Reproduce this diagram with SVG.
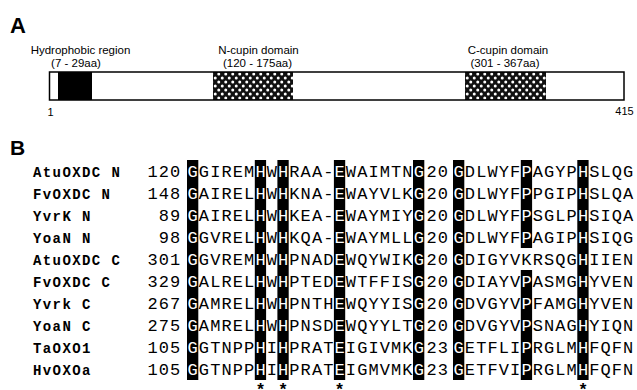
<svg xmlns="http://www.w3.org/2000/svg" width="637" height="390" viewBox="0 0 637 390">
<style>
.lbl{font-family:"Liberation Sans",Arial,sans-serif;font-size:11.5px;fill:#000;text-anchor:middle}
.pl{font-family:"Liberation Sans",Arial,sans-serif;font-size:22px;font-weight:bold;fill:#000}
.tick{font-family:"Liberation Sans",Arial,sans-serif;font-size:11px;fill:#000;text-anchor:middle}
.name{font-family:"Liberation Mono","Courier New",monospace;font-size:14px;font-weight:bold;letter-spacing:1.4px;fill:#000}
.seq{font-family:"Liberation Mono","Courier New",monospace;font-size:17px;letter-spacing:1.1px;fill:#000}
.w{fill:#fff}
.box{fill:#000}
.star{font-family:"Liberation Sans",Arial,sans-serif;font-size:17px;font-weight:bold;fill:#000;text-anchor:middle}
</style>
<defs>
<pattern id="dots" width="7" height="8" patternUnits="userSpaceOnUse">
<rect width="7" height="8" fill="#111"/>
<circle cx="1.75" cy="2" r="1.5" fill="#fff"/>
<circle cx="5.25" cy="6" r="1.5" fill="#fff"/>
</pattern>
</defs>
<rect width="637" height="390" fill="#fff"/>

<g id="panelA">
<text class="pl" x="10" y="33">A</text>
<g id="hydrophobic">
<text class="lbl" x="80.5" y="53.5">Hydrophobic region</text>
<text class="lbl" x="76" y="66.5">(7 - 29aa)</text>
</g>
<g id="ncupin">
<text class="lbl" x="258.5" y="53.5">N-cupin domain</text>
<text class="lbl" x="257.5" y="66.5">(120 - 175aa)</text>
</g>
<g id="ccupin">
<text class="lbl" x="508" y="53.5">C-cupin domain</text>
<text class="lbl" x="505" y="66.5">(301 - 367aa)</text>
</g>
<g id="bar">
<rect x="49.5" y="72" width="574.5" height="28" fill="#fff"/>
<rect x="58" y="72" width="34" height="28" fill="#000"/>
<rect x="213" y="72" width="80" height="28" fill="url(#dots)"/>
<rect x="465" y="72" width="81" height="28" fill="url(#dots)"/>
<rect x="49.5" y="72" width="574.5" height="28" fill="none" stroke="#000" stroke-width="1.5"/>
</g>
<text class="tick" x="50.5" y="116">1</text>
<text class="tick" x="624.5" y="115">415</text>
</g>

<g id="panelB">
<text class="pl" x="10" y="155" style="font-size:21px">B</text>
<g id="boxes">
<rect class="box" x="187" y="160" width="11.3" height="220"/>
<rect class="box" x="254.8" y="160" width="11.3" height="220"/>
<rect class="box" x="277.4" y="160" width="11.3" height="220"/>
<rect class="box" x="333.9" y="160" width="11.3" height="220"/>
<rect class="box" x="413" y="160" width="11.3" height="220"/>
<rect class="box" x="453" y="160" width="11.3" height="220"/>
<rect class="box" x="520.8" y="160" width="11.3" height="88"/>
<rect class="box" x="520.8" y="270" width="11.3" height="110"/>
<rect class="box" x="577.3" y="160" width="11.3" height="220"/>
</g>
<g id="names">
<text class="name" x="33" y="176.5">AtuOXDC N</text>
<text class="name" x="33" y="198.5">FvOXDC N</text>
<text class="name" x="33" y="220.5">YvrK N</text>
<text class="name" x="33" y="242.5">YoaN N</text>
<text class="name" x="33" y="264.5">AtuOXDC C</text>
<text class="name" x="33" y="286.5">FvOXDC C</text>
<text class="name" x="33" y="308.5">Yvrk C</text>
<text class="name" x="33" y="330.5">YoaN C</text>
<text class="name" x="33" y="352.5">TaOXO1</text>
<text class="name" x="33" y="374.5">HvOXOa</text>
</g>
<g id="numbers">
<text class="seq" x="147.5" y="176.5">120</text>
<text class="seq" x="147.5" y="198.5">148</text>
<text class="seq" x="158.8" y="220.5">89</text>
<text class="seq" x="158.8" y="242.5">98</text>
<text class="seq" x="147.5" y="264.5">301</text>
<text class="seq" x="147.5" y="286.5">329</text>
<text class="seq" x="147.5" y="308.5">267</text>
<text class="seq" x="147.5" y="330.5">275</text>
<text class="seq" x="147.5" y="352.5">105</text>
<text class="seq" x="147.5" y="374.5">105</text>
</g>
<g id="seg1">
<text class="seq" x="187.55" y="176.5"><tspan class="w">G</tspan>GIREM<tspan class="w">H</tspan>W<tspan class="w">H</tspan>RAA-<tspan class="w">E</tspan>WAIMTN<tspan class="w">G</tspan></text>
<text class="seq" x="187.55" y="198.5"><tspan class="w">G</tspan>AIREL<tspan class="w">H</tspan>W<tspan class="w">H</tspan>KNA-<tspan class="w">E</tspan>WAYVLK<tspan class="w">G</tspan></text>
<text class="seq" x="187.55" y="220.5"><tspan class="w">G</tspan>AIREL<tspan class="w">H</tspan>W<tspan class="w">H</tspan>KEA-<tspan class="w">E</tspan>WAYMIY<tspan class="w">G</tspan></text>
<text class="seq" x="187.55" y="242.5"><tspan class="w">G</tspan>GVREL<tspan class="w">H</tspan>W<tspan class="w">H</tspan>KQA-<tspan class="w">E</tspan>WAYMLL<tspan class="w">G</tspan></text>
<text class="seq" x="187.55" y="264.5"><tspan class="w">G</tspan>GVREM<tspan class="w">H</tspan>W<tspan class="w">H</tspan>PNAD<tspan class="w">E</tspan>WQYWIK<tspan class="w">G</tspan></text>
<text class="seq" x="187.55" y="286.5"><tspan class="w">G</tspan>ALREL<tspan class="w">H</tspan>W<tspan class="w">H</tspan>PTED<tspan class="w">E</tspan>WTFFIS<tspan class="w">G</tspan></text>
<text class="seq" x="187.55" y="308.5"><tspan class="w">G</tspan>AMREL<tspan class="w">H</tspan>W<tspan class="w">H</tspan>PNTH<tspan class="w">E</tspan>WQYYIS<tspan class="w">G</tspan></text>
<text class="seq" x="187.55" y="330.5"><tspan class="w">G</tspan>AMREL<tspan class="w">H</tspan>W<tspan class="w">H</tspan>PNSD<tspan class="w">E</tspan>WQYYLT<tspan class="w">G</tspan></text>
<text class="seq" x="187.55" y="352.5"><tspan class="w">G</tspan>GTNPP<tspan class="w">H</tspan>I<tspan class="w">H</tspan>PRAT<tspan class="w">E</tspan>IGIVMK<tspan class="w">G</tspan></text>
<text class="seq" x="187.55" y="374.5"><tspan class="w">G</tspan>GTNPP<tspan class="w">H</tspan>I<tspan class="w">H</tspan>PRAT<tspan class="w">E</tspan>IGMVMK<tspan class="w">G</tspan></text>
</g>
<g id="gaps">
<text class="seq" x="426.5" y="176.5">20</text>
<text class="seq" x="426.5" y="198.5">20</text>
<text class="seq" x="426.5" y="220.5">20</text>
<text class="seq" x="426.5" y="242.5">20</text>
<text class="seq" x="426.5" y="264.5">20</text>
<text class="seq" x="426.5" y="286.5">20</text>
<text class="seq" x="426.5" y="308.5">20</text>
<text class="seq" x="426.5" y="330.5">20</text>
<text class="seq" x="426.5" y="352.5">23</text>
<text class="seq" x="426.5" y="374.5">23</text>
</g>
<g id="seg2">
<text class="seq" x="453.55" y="176.5"><tspan class="w">G</tspan>DLWYF<tspan class="w">P</tspan>AGYP<tspan class="w">H</tspan>SLQG</text>
<text class="seq" x="453.55" y="198.5"><tspan class="w">G</tspan>DLWYF<tspan class="w">P</tspan>PGIP<tspan class="w">H</tspan>SLQA</text>
<text class="seq" x="453.55" y="220.5"><tspan class="w">G</tspan>DLWYF<tspan class="w">P</tspan>SGLP<tspan class="w">H</tspan>SIQA</text>
<text class="seq" x="453.55" y="242.5"><tspan class="w">G</tspan>DLWYF<tspan class="w">P</tspan>AGIP<tspan class="w">H</tspan>SIQG</text>
<text class="seq" x="453.55" y="264.5"><tspan class="w">G</tspan>DIGYVKRSQG<tspan class="w">H</tspan>IIEN</text>
<text class="seq" x="453.55" y="286.5"><tspan class="w">G</tspan>DIAYV<tspan class="w">P</tspan>ASMG<tspan class="w">H</tspan>YVEN</text>
<text class="seq" x="453.55" y="308.5"><tspan class="w">G</tspan>DVGYV<tspan class="w">P</tspan>FAMG<tspan class="w">H</tspan>YVEN</text>
<text class="seq" x="453.55" y="330.5"><tspan class="w">G</tspan>DVGYV<tspan class="w">P</tspan>SNAG<tspan class="w">H</tspan>YIQN</text>
<text class="seq" x="453.55" y="352.5"><tspan class="w">G</tspan>ETFLI<tspan class="w">P</tspan>RGLM<tspan class="w">H</tspan>FQFN</text>
<text class="seq" x="453.55" y="374.5"><tspan class="w">G</tspan>ETFVI<tspan class="w">P</tspan>RGLM<tspan class="w">H</tspan>FQFN</text>
</g>
<g id="stars">
<text class="star" x="260.5" y="395">*</text>
<text class="star" x="283" y="395">*</text>
<text class="star" x="339.5" y="395">*</text>
<text class="star" x="583" y="395">*</text>
</g>
</g>
</svg>
